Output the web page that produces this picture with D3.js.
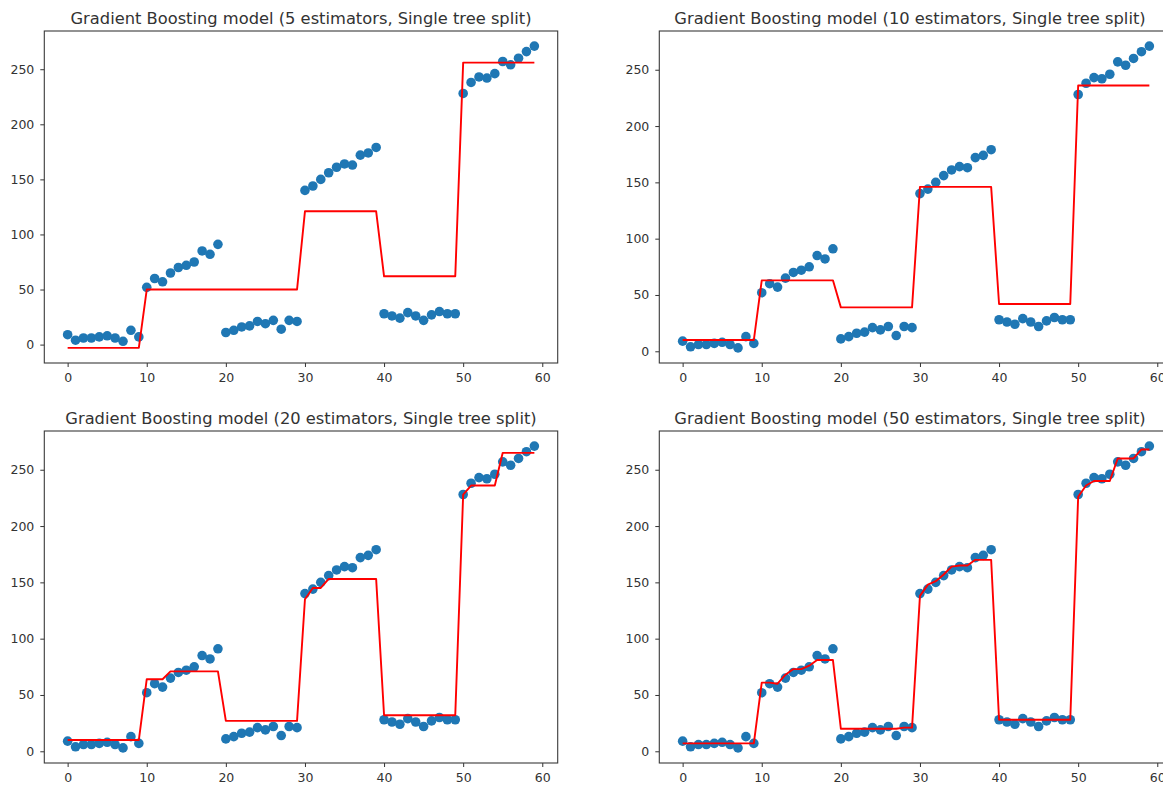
<!DOCTYPE html>
<html>
<head>
<meta charset="utf-8">
<script src="https://cdn.jsdelivr.net/npm/d3@7"></script>
<style>
  body { margin: 0; background: #fff; }
  svg { display: block; }
  text { font-family: "DejaVu Sans", sans-serif; fill: #333; }
</style>
</head>
<body>
<svg id="chart" width="1163" height="788"></svg>
<script>
// Observed target values, one per sample index 0..59
const observed = [
  9, 4, 6, 6, 7, 8, 6, 3, 13, 7,
  52, 60, 57, 65, 70, 72, 75, 85, 82, 91,
  11, 13, 16, 17, 21, 19, 22, 14, 22, 21,
  140, 144, 150, 156, 161, 164, 163, 172, 174, 179,
  28, 26, 24, 29, 26, 22, 27, 30, 28, 28,
  228, 238, 243, 242, 246, 257, 254, 260, 266, 271
];

// Model predictions for each number of boosting stages
const pred5 = [
  -3, -3, -3, -3, -3, -3, -3, -3, -3, -3,
  50, 50, 50, 50, 50, 50, 50, 50, 50, 50,
  50, 50, 50, 50, 50, 50, 50, 50, 50, 50,
  121, 121, 121, 121, 121, 121, 121, 121, 121, 121,
  62, 62, 62, 62, 62, 62, 62, 62, 62, 62,
  256, 256, 256, 256, 256, 256, 256, 256, 256, 256
];
const pred10 = [
  10, 10, 10, 10, 10, 10, 10, 10, 10, 10,
  63, 63, 63, 63, 63, 63, 63, 63, 63, 63,
  39, 39, 39, 39, 39, 39, 39, 39, 39, 39,
  146, 146, 146, 146, 146, 146, 146, 146, 146, 146,
  42, 42, 42, 42, 42, 42, 42, 42, 42, 42,
  236, 236, 236, 236, 236, 236, 236, 236, 236, 236
];
const pred20 = [
  10, 10, 10, 10, 10, 10, 10, 10, 10, 10,
  64, 64, 64, 71, 71, 71, 71, 71, 71, 71,
  27, 27, 27, 27, 27, 27, 27, 27, 27, 27,
  135, 145, 145, 153, 153, 153, 153, 153, 153, 153,
  32, 32, 32, 32, 32, 32, 32, 32, 32, 32,
  228, 236, 236, 236, 236, 265, 265, 265, 265, 265
];
const pred50 = [
  7, 7, 7, 7, 7, 7, 7, 7, 7, 7,
  61, 61, 60, 68, 73, 73, 76, 81, 81, 81,
  20, 20, 20, 20, 20, 20, 20, 20, 21, 21,
  138, 148, 151, 157, 164, 165, 165, 170, 170, 170,
  28, 28, 28, 28, 28, 28, 28, 28, 28, 28,
  226, 236, 240, 240, 240, 260, 260, 260, 268, 268
];

const estimatorCounts = [5, 10, 20, 50];
const predictions = [pred5, pred10, pred20, pred50];
const xTicks = [0, 10, 20, 30, 40, 50, 60];
const yTicks = [0, 50, 100, 150, 200, 250];

// Subplot frames (2 x 2 grid)
const plotW = 513.4, plotH = 332;
const frames = [
  { left: 44.3, top: 31 },
  { left: 659.3, top: 31 },
  { left: 44.3, top: 431 },
  { left: 659.3, top: 431 }
];

const svg = d3.select("#chart");

// matplotlib-style 5% data margins
function paddedExtent(values) {
  const [lo, hi] = d3.extent(values);
  const pad = (hi - lo) * 0.05;
  return [lo - pad, hi + pad];
}

estimatorCounts.forEach((n, i) => {
  const pred = predictions[i];
  const f = frames[i];
  const g = svg.append("g").attr("transform", `translate(${f.left},${f.top})`);

  const idx = observed.map((_, k) => k);
  const x = d3.scaleLinear().domain(paddedExtent(idx)).range([0, plotW]);
  const y = d3.scaleLinear().domain(paddedExtent(observed.concat(pred))).range([plotH, 0]);

  // Scatter of observed values
  g.append("g").selectAll("circle")
    .data(observed)
    .join("circle")
    .attr("cx", (d, k) => x(k))
    .attr("cy", d => y(d))
    .attr("r", 4.8)
    .attr("fill", "#1f77b4");

  // Prediction line
  const line = d3.line().x((d, k) => x(k)).y(d => y(d));
  g.append("path")
    .datum(pred)
    .attr("d", line)
    .attr("fill", "none")
    .attr("stroke", "#ff0000")
    .attr("stroke-width", 1.9)
    .attr("stroke-linejoin", "round");

  // Axes
  const xAxis = d3.axisBottom(x).tickValues(xTicks).tickSizeInner(4).tickSizeOuter(0).tickPadding(6)
    .tickFormat(d3.format("d"));
  const yAxis = d3.axisLeft(y).tickValues(yTicks).tickSizeInner(4).tickSizeOuter(0).tickPadding(6)
    .tickFormat(d3.format("d"));

  const gx = g.append("g").attr("transform", `translate(0,${plotH})`).call(xAxis);
  const gy = g.append("g").call(yAxis);
  [gx, gy].forEach(a => {
    a.select(".domain").remove();
    a.selectAll(".tick line").attr("stroke", "#333").attr("stroke-width", 1);
    a.selectAll(".tick text").attr("font-size", 12.5).attr("font-family", "DejaVu Sans, sans-serif").attr("fill", "#333");
  });

  // Frame
  g.append("rect")
    .attr("x", 0).attr("y", 0).attr("width", plotW).attr("height", plotH)
    .attr("fill", "none").attr("stroke", "#3a3a3a").attr("stroke-width", 1.1);

  // Title
  g.append("text")
    .attr("x", plotW / 2 + (i % 2 === 1 ? -6 : 0))
    .attr("y", -7)
    .attr("text-anchor", "middle")
    .attr("font-size", 16.3)
    .text(`Gradient Boosting model (${n} estimators, Single tree split)`);
});
</script>
</body>
</html>
